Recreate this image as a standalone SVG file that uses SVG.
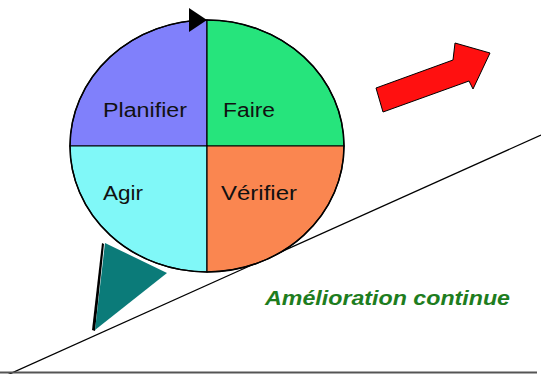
<svg xmlns="http://www.w3.org/2000/svg" width="541" height="374" viewBox="0 0 541 374">
<style>
.q{stroke:#000;stroke-width:1.2}
.lbl{font-family:"Liberation Sans",Arial,sans-serif;font-size:20px;fill:#111}
.amel{font-family:"Liberation Sans",Arial,sans-serif;font-size:20.5px;font-weight:bold;font-style:italic;fill:#1e7d1e}
</style>
<rect width="541" height="374" fill="#fff"/>
<g id="slope">
<line x1="5" y1="376" x2="541" y2="135" stroke="#000" stroke-width="1.3"/>
<line x1="0" y1="372.5" x2="537" y2="372.5" stroke="#555" stroke-width="2"/>
</g>
<g id="wedge">
<polygon points="102,243 92,330 95,331 104,244" fill="#000"/>
<polygon points="105,243 167,273 95,330" fill="#0b7b79"/>
</g>
<g id="cycle">
<path class="q" d="M207,146 L207,20 A137,126 0 0 0 70,146 Z" fill="#8080fb"/>
<path class="q" d="M207,146 L344,146 A137,126 0 0 0 207,20 Z" fill="#26e47c"/>
<path class="q" d="M207,146 L70,146 A137,126 0 0 0 207,272 Z" fill="#80f8f8"/>
<path class="q" d="M207,146 L207,272 A137,126 0 0 0 344,146 Z" fill="#fa8650"/>
<ellipse cx="207" cy="146" rx="137" ry="126" fill="none" stroke="#000" stroke-width="1.5"/>
<polygon points="189,8 189,32 207,20" fill="#000"/>
</g>
<g id="planifier"><text class="lbl" x="103" y="117" textLength="84" lengthAdjust="spacingAndGlyphs" fill="#10104a">Planifier</text></g>
<g id="faire"><text class="lbl" x="223" y="117" textLength="52" lengthAdjust="spacingAndGlyphs">Faire</text></g>
<g id="agir"><text class="lbl" x="103" y="200" textLength="40" lengthAdjust="spacingAndGlyphs">Agir</text></g>
<g id="verifier"><text class="lbl" x="221" y="200" textLength="76" lengthAdjust="spacingAndGlyphs">Vérifier</text></g>
<g id="arrow">
<polygon points="376,88 453,60 455,43 490,53 473,89 469,81 383,112" fill="#ff1010" stroke="#000" stroke-width="1"/>
</g>
<g id="label"><text class="amel" x="265" y="305" textLength="245" lengthAdjust="spacingAndGlyphs">Amélioration continue</text></g>
<g id="connectors"></g>
</svg>
